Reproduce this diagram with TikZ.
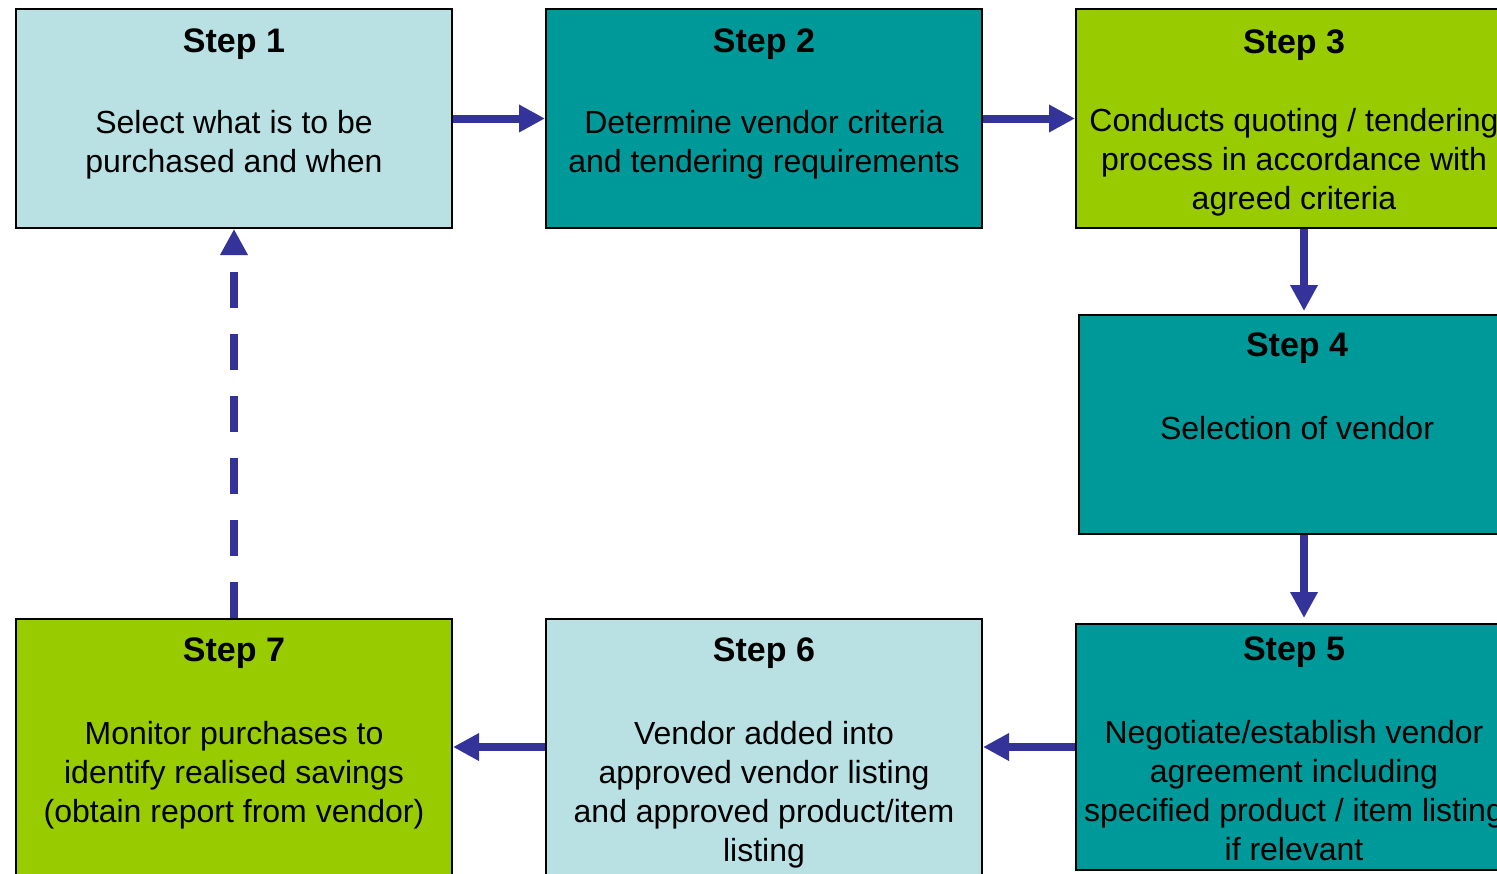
\documentclass[tikz,border=0pt]{standalone}
\usepackage{fontspec}
\setmainfont{Liberation Sans}
\usetikzlibrary{arrows.meta}
\definecolor{stepblue}{HTML}{B9E0E3}
\definecolor{stepteal}{HTML}{009999}
\definecolor{steplime}{HTML}{99CC00}
\definecolor{flowblue}{HTML}{333399}
\begin{document}
\begin{tikzpicture}[x=0.5pt,y=-0.5pt,
  box/.style={draw=black,line width=1pt,inner sep=0pt,anchor=north west,
    minimum width=218pt,minimum height=109.5pt},
  steptitle/.style={anchor=base,inner sep=0pt,font=\fontsize{17}{20}\selectfont\bfseries},
  stepbody/.style={anchor=north,inner sep=0pt,align=center,font=\fontsize{16}{19.5}\selectfont},
  flow/.style={draw=flowblue,line width=4pt,-{Triangle[length=13pt,width=13pt]}}]
\useasboundingbox (0,0) rectangle (1497,873);
\fill[white] (0,0) rectangle (1497,873);
\clip (0,0) rectangle (1497,873);

% process boxes
\node[box,fill=stepblue] (s1) at (15,8) {};
\node[box,fill=stepteal] (s2) at (545,8) {};
\node[box,fill=steplime] (s3) at (1075,8) {};
\node[box,fill=stepteal] (s4) at (1078,314) {};
\node[box,fill=stepteal,minimum height=123pt] (s5) at (1075,623) {};
\node[box,fill=stepblue,minimum height=132.5pt] (s6) at (545,618) {};
\node[box,fill=steplime,minimum height=132.5pt] (s7) at (15,618) {};

% titles
\node[steptitle] (t1) at ([yshift=-22pt]s1.north) {Step 1};
\node[steptitle] (t2) at ([yshift=-22pt]s2.north) {Step 2};
\node[steptitle] (t3) at ([yshift=-22.5pt]s3.north) {Step 3};
\node[steptitle] (t4) at ([yshift=-21pt]s4.north) {Step 4};
\node[steptitle] (t5) at ([yshift=-18.5pt]s5.north) {Step 5};
\node[steptitle] (t6) at ([yshift=-21.5pt]s6.north) {Step 6};
\node[steptitle] (t7) at ([yshift=-21.5pt]s7.north) {Step 7};

% descriptions
\node[stepbody] (b1) at ([yshift=-51pt]s1.north) {Select what is to be\\purchased and when};
\node[stepbody] (b2) at ([yshift=-51pt]s2.north) {Determine vendor criteria\\and tendering requirements};
\node[stepbody] (b3) at ([yshift=-50pt]s3.north) {Conducts quoting / tendering\\process in accordance with\\agreed criteria};
\node[stepbody] (b4) at ([yshift=-51pt]s4.north) {Selection of vendor};
\node[stepbody] (b5) at ([yshift=-48.5pt]s5.north) {Negotiate/establish vendor\\agreement including\\specified product / item listing\\if relevant};
\node[stepbody] (b6) at ([yshift=-51.5pt]s6.north) {Vendor added into\\approved vendor listing\\and approved product/item\\listing};
\node[stepbody] (b7) at ([yshift=-51.5pt]s7.north) {Monitor purchases to\\identify realised savings\\(obtain report from vendor)};

% connectors
\draw[flow] (s1.east) -- (s2.west);
\draw[flow] (s2.east) -- (s3.west);
\draw[flow] ([xshift=5pt]s3.south) -- ([xshift=5pt,yshift=1.5pt]s3.south |- s4.north);
\draw[flow] ([xshift=5pt]s3.south |- s4.south) -- ([xshift=5pt,yshift=2.5pt]s3.south |- s5.north);
\draw[flow] (s5.west) -- (s6.east |- s5.west);
\draw[flow] (s6.west |- s5.west) -- (s7.east |- s5.west);
\draw[flow,dash pattern=on 18pt off 13pt] (s7.north) -- (s1.south);
\end{tikzpicture}
\end{document}
